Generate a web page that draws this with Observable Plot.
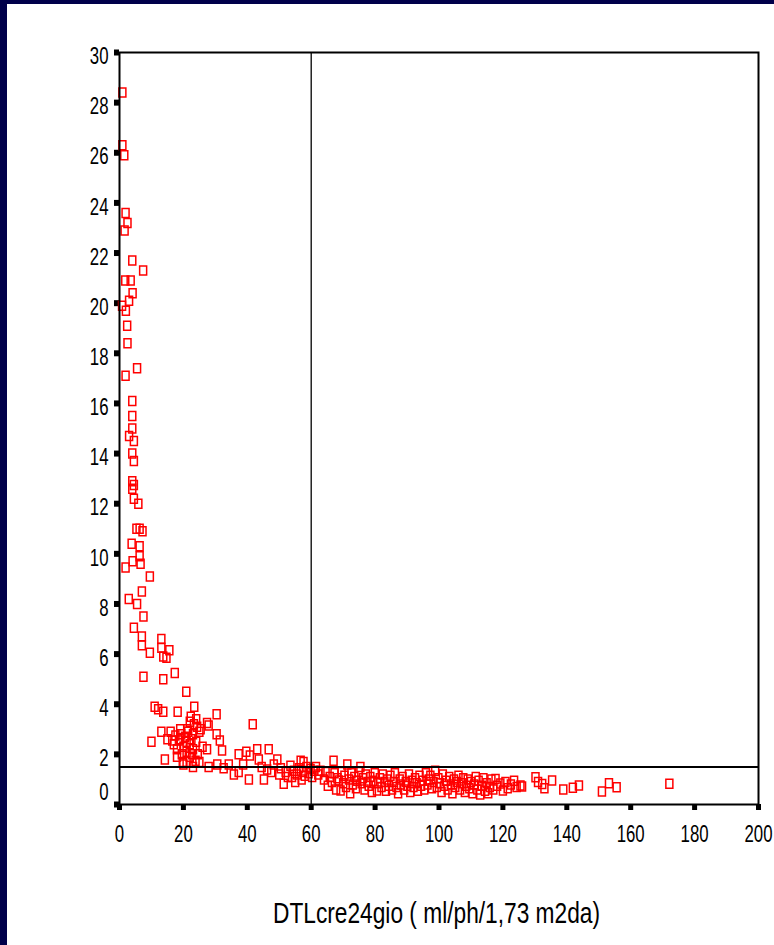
<!DOCTYPE html>
<html>
<head>
<meta charset="utf-8">
<script src="https://cdn.jsdelivr.net/npm/d3@7"></script>
<script src="https://cdn.jsdelivr.net/npm/@observablehq/plot@0.6"></script>
<style>
  html, body { margin: 0; padding: 0; background: #fff; }
  #wrap { position: relative; width: 774px; height: 945px; background: #fff; overflow: hidden; }
  #wrap svg { position: absolute; left: 0; top: 0; }
  .strip { position: absolute; background: #00004a; }
</style>
</head>
<body>
<div id="wrap">
  <div class="strip" style="left:0;top:0;width:7px;height:945px"></div>
  <div class="strip" style="left:0;top:0;width:774px;height:4px"></div>
</div>
<script>
// x: DTLcre24gio (ml/ph/1,73 m2da), y: value
const dtl = [
  0.9,0.9,1.5,1.9,2.5,1.6,4.0,7.4,1.8,3.5,4.1,3.0,0.8,2.0,2.4,2.5,5.5,1.9,4.0,4.0,4.0,3.0,4.5,4.0,4.5,
  4.0,4.5,4.0,4.5,5.9,5.3,6.3,7.2,3.8,6.3,6.3,4.1,6.6,1.9,9.5,2.9,5.5,7.0,7.5,4.5,7.0,7.0,9.5,13.1,13.1,
  13.7,14.7,15.6,7.5,13.7,17.3,20.9,11.0,12.1,13.7,18.2,23.4,22.3,10.0,13.1,14.2,16.5,17.5,18.6,19.3,
  21.2,23.3,24.3,25.4,27.4,27.9,30.4,30.4,31.4,32.1,27.4,22.7,23.8,19.8,27.9,30.6,32.6,34.2,35.8,37.3,
  37.3,38.7,39.7,40.5,41.7,40.8,43.1,43.6,
  17,18,19,19.5,20,20.5,21,21,21.5,22,22,22.5,23,23,24,24.5,25,20,26,19,16,15,18,22,24,25,21,23,
  44.5,45.2,46.2,46.7,47.5,48.3,49.4,50,50.5,51.4,52,52.7,53.5,54,54.6,55,55.5,56.2,56.7,57,57.5,58,58.5,
  59.2,59.8,60.3,61,61.5,62.2,62.9,57.6,
  64,64.5,65.2,65.8,66.5,67,67.3,67.8,68.2,68.6,69.2,69.5,70,70.4,70.9,71.3,71.8,72.2,72.6,73,73.5,74,
  74.4,74.9,75.4,75.8,76.2,76.7,77.1,77.6,78,78.5,79,79.4,79.9,80.6,81,81.5,82,82.4,82.9,83.4,83.8,84.3,
  84.8,85.3,85.8,86.2,86.7,87.2,87.7,88.1,88.6,89.1,89.6,90.1,90.6,91,91.5,92,92.5,93,93.4,93.9,94.4,
  94.9,95.4,95.9,96.4,96.8,97.3,97.8,98.3,98.8,99.3,99.8,100.3,100.8,101.2,101.7,102.2,102.7,103.2,
  103.7,104.2,104.7,105.1,105.6,106.1,106.6,107.1,107.6,108.1,108.5,109,109.5,110,110.5,111,111.5,112,
  112.4,112.9,113.4,113.9,114.4,114.9,115.4,115.9,116.4,117,117.7,118.2,119.2,120,120.8,121.5,122.5,
  123.5,124.3,125.5,126,
  130.2,131,132.3,133,135.4,138.9,141.9,143.8,151,153.2,155.6,172.1
];
const yval = [
  28.4,26.3,25.9,23.6,23.2,22.9,21.7,21.3,20.9,20.9,20.4,20.1,19.9,19.7,19.1,18.4,17.4,17.1,16.1,15.5,15.0,14.7,14.5,14.0,13.7,
  12.9,12.75,12.6,12.2,12.0,11.0,11.0,10.9,10.4,10.3,9.9,9.7,9.6,9.45,9.1,8.2,8.0,8.5,7.5,7.05,6.7,6.35,6.05,6.6,6.25,
  5.9,5.85,6.15,5.1,5.0,5.25,4.5,3.9,3.8,3.7,3.7,3.9,3.5,2.5,2.9,1.8,2.55,2.75,2.55,2.8,
  3.0,3.2,3.1,3.0,3.25,3.15,3.6,2.8,2.55,2.15,2.2,2.0,1.75,1.7,1.5,1.6,1.45,1.6,1.2,2.0,
  1.3,1.6,2.1,1.0,3.2,1.95,2.2,1.8,
  2.4,2.2,2.6,2.0,2.3,2.7,2.5,2.1,2.9,2.4,1.9,2.6,2.2,2.8,2.5,2.0,1.7,1.6,2.3,3.0,2.9,2.6,1.9,3.3,3.4,2.9,1.7,1.5,
  1.5,1.0,1.4,2.2,1.3,1.6,1.8,1.2,1.45,0.83,1.3,1.1,1.55,1.1,1.35,0.9,1.2,1.45,1.75,1.0,1.3,1.15,1.5,
  1.25,1.42,1.1,1.35,1.5,1.2,1.35,1.7,
  1.0,1.3,0.75,1.1,0.9,1.75,1.25,0.6,1.05,0.96,0.56,1.3,0.85,1.15,0.7,1.6,1.0,0.45,1.25,0.8,1.1,0.65,
  0.95,1.3,1.5,0.85,1.05,0.6,1.2,0.9,0.75,1.1,0.5,0.95,1.25,0.56,0.85,1.05,0.7,1.2,0.9,0.55,1.0,0.75,
  1.15,0.6,0.9,1.25,0.7,0.45,1.0,0.8,1.1,0.6,0.9,0.75,1.2,0.5,0.95,0.7,1.05,0.85,0.55,1.15,0.75,
  0.95,0.6,1.25,0.8,1.0,1.15,0.65,0.9,1.35,0.7,1.05,0.85,0.5,1.2,0.75,0.95,0.6,1.1,
  0.8,0.45,1.0,0.7,0.9,1.15,0.6,0.85,1.05,0.5,0.75,1.0,0.65,0.9,0.45,0.8,1.1,0.6,
  0.95,0.4,0.75,1.05,0.55,0.85,0.45,0.7,1.0,0.6,1.02,0.75,0.84,0.56,0.9,0.65,0.8,
  0.95,0.7,0.76,0.72,
  1.09,0.9,0.82,0.65,0.96,0.6,0.67,0.76,0.52,0.85,0.69,0.83
];
const xTicks = [0,20,40,60,80,100,120,140,160,180,200];
const yTicks = [0,2,4,6,8,10,12,14,16,18,20,22,24,26,28,30];
const refX = [60];
const refY = [1.5];
const xTitle = "DTLcre24gio ( ml/ph/1,73 m2da)";

const points = dtl.map((x, i) => ({x, y: yval[i]}));
const rectSymbol = { draw(ctx) { ctx.rect(-3.5, -4.5, 7, 9); } };
const font = "'Liberation Sans', Arial, sans-serif";

const chart = Plot.plot({
  width: 774,
  height: 945,
  marginLeft: 119,
  marginRight: 16,
  marginTop: 52,
  marginBottom: 141,
  style: { background: "transparent", fontFamily: font, overflow: "visible" },
  x: { domain: [0, 200], axis: null },
  y: { domain: [0, 30], axis: null },
  marks: [
    Plot.axisX({ ticks: xTicks, tickSize: 6, strokeWidth: 5, tickFormat: () => "", label: null }),
    Plot.axisY({ ticks: yTicks, tickSize: 5, strokeWidth: 6, tickFormat: () => "", label: null }),
    Plot.text(xTicks, { x: d => d, frameAnchor: "bottom", dy: 30, lineAnchor: "middle", text: d => String(d), fontSize: 24, fill: "#000", className: "lbl" }),
    Plot.text(yTicks.filter(d => d !== 0), { y: d => d, frameAnchor: "left", dx: -11, dy: 4, textAnchor: "end", lineAnchor: "middle", text: d => String(d), fontSize: 24, fill: "#000", className: "lbl" }),
    Plot.text(yTicks.filter(d => d === 0), { y: d => d, frameAnchor: "left", dx: -11, dy: -12, textAnchor: "end", lineAnchor: "middle", text: d => String(d), fontSize: 24, fill: "#000", className: "lbl" }),
    Plot.dot(points, { x: "x", y: "y", symbol: rectSymbol, stroke: "#ff0000", strokeWidth: 1.5, fill: "none" }),
    Plot.ruleX(refX, { stroke: "#000", strokeWidth: 1.3 }),
    Plot.ruleY(refY, { stroke: "#000", strokeWidth: 2 }),
    Plot.frame({ stroke: "#000", strokeWidth: 2 })
  ]
});

// condense label glyphs horizontally (narrow typeface look)
d3.select(chart).selectAll("g.lbl text").each(function () {
  const t = this.getAttribute("transform") || "";
  this.setAttribute("transform", t + " scale(0.7,1)");
});

d3.select(chart).append("text")
  .attr("x", 436.5)
  .attr("y", 923)
  .attr("text-anchor", "middle")
  .attr("font-family", font)
  .attr("font-size", 29)
  .attr("textLength", 327)
  .attr("lengthAdjust", "spacingAndGlyphs")
  .attr("fill", "#000")
  .text(xTitle);

document.getElementById("wrap").prepend(chart);
</script>
</body>
</html>
